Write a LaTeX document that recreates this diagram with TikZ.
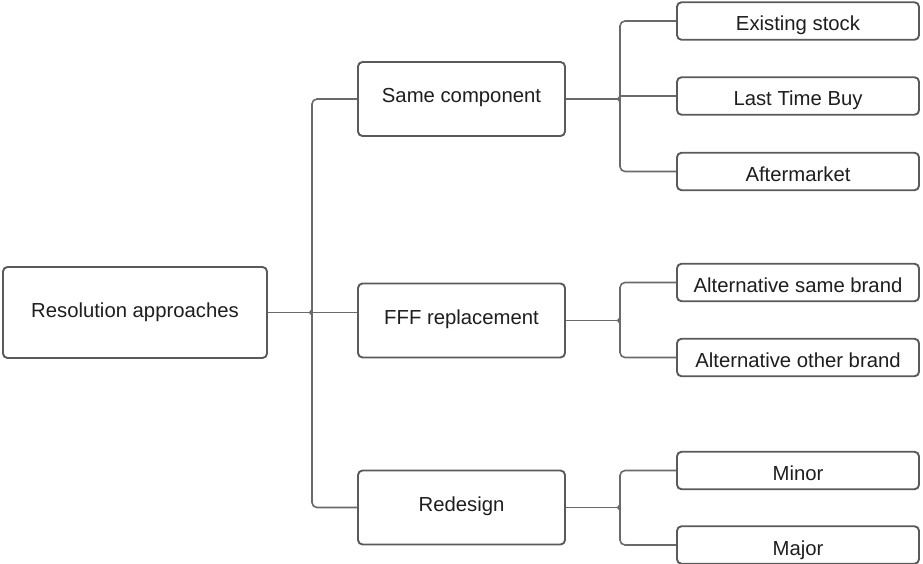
\documentclass[tikz,border=0pt]{standalone}
\usepackage{fontspec}
\setmainfont{Liberation Sans}
\usetikzlibrary{calc}
\definecolor{boxline}{HTML}{5A5A5A}
\definecolor{linkline}{HTML}{6A6A6A}
\definecolor{labeltext}{HTML}{1E1E1E}
\begin{document}
\begin{tikzpicture}[x=1pt,y=-1pt,
  box/.style={draw=boxline, line width=1.9pt, rounded corners=4.5pt, fill=white,
    text=labeltext, font=\fontsize{20.3}{24}\selectfont, inner sep=0pt},
  rootbox/.style={box, minimum width=264pt, minimum height=91pt,
    text height=14pt, text depth=5pt},
  midbox/.style={box, minimum width=207pt, minimum height=74pt,
    text height=14pt, text depth=7pt},
  leafbox/.style={box, minimum width=242pt, minimum height=37.5pt,
    text height=20pt, text depth=0pt},
  conn/.style={draw=linkline, line width=1.6pt, rounded corners=5pt},
  notch/.style={draw=linkline, line width=1.2pt, line join=round}]
\useasboundingbox (0,0) rectangle (923,564);

% tree nodes
\node[rootbox] (root) at (135,312.5) {Resolution approaches};

\node[midbox] (same) at (461.5,99) {Same component};
\node[midbox] (fff)  at (461.5,320.5) {FFF replacement};
\node[midbox] (red)  at (461.5,507.5) {Redesign};

\node[leafbox] (stock)  at (798,21)    {Existing stock};
\node[leafbox] (ltb)    at (798,96)    {Last Time Buy};
\node[leafbox] (after)  at (798,171.5) {Aftermarket};
\node[leafbox] (altsb)  at (798,282.5) {Alternative same brand};
\node[leafbox] (altob)  at (798,357.5) {Alternative other brand};
\node[leafbox] (minor)  at (798,470.5) {Minor};
\node[leafbox] (major)  at (798,545)   {Major};

% bracket junctions
\coordinate (jroot) at (312,312.5);
\coordinate (jsame) at (620,99);
\coordinate (jfff)  at (620,320.5);
\coordinate (jred)  at (620,507.5);

% root bracket
\draw[conn] (root.east) -- (jroot);
\draw[conn] (same.west) -| (jroot |- red.west) -- (red.west);
\draw[conn] (jroot) -- (jroot -| fff.west);
\draw[notch] ($(jroot)+(0,-3)$) -- ($(jroot)+(-2.5,0)$) -- ($(jroot)+(0,3)$);

% same component bracket
\draw[conn] (same.east) -- (jsame);
\draw[conn] (stock.west) -| (jsame |- after.west) -- (after.west);
\draw[conn] (jsame |- ltb.west) -- (ltb.west);
\draw[notch] ($(jsame)+(0,-3)$) -- ($(jsame)+(-2.5,0)$) -- ($(jsame)+(0,3)$);

% FFF replacement bracket
\draw[conn] (fff.east) -- (jfff);
\draw[conn] (altsb.west) -| (jfff |- altob.west) -- (altob.west);
\draw[notch] ($(jfff)+(0,-3)$) -- ($(jfff)+(-2.5,0)$) -- ($(jfff)+(0,3)$);

% redesign bracket
\draw[conn] (red.east) -- (jred);
\draw[conn] (minor.west) -| (jred |- major.west) -- (major.west);
\draw[notch] ($(jred)+(0,-3)$) -- ($(jred)+(-2.5,0)$) -- ($(jred)+(0,3)$);
\end{tikzpicture}
\end{document}
